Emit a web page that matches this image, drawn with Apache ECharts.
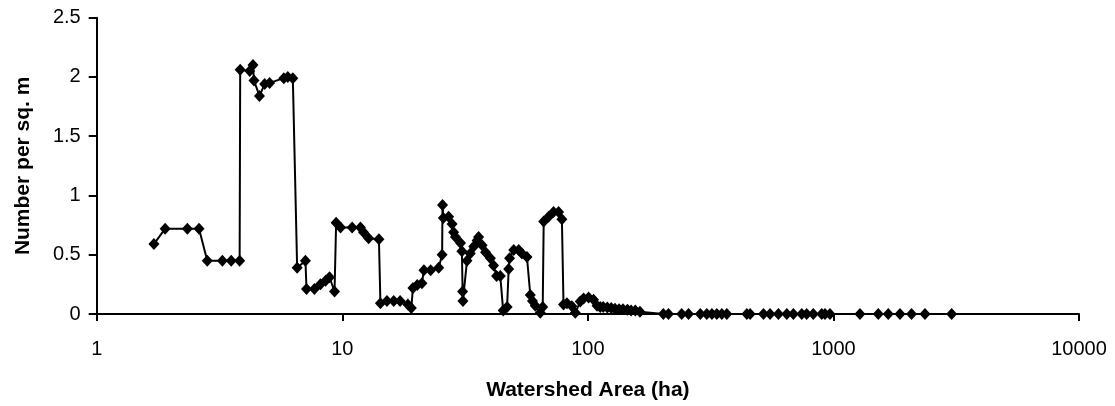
<!DOCTYPE html>
<html>
<head>
<meta charset="utf-8">
<script src="https://cdn.jsdelivr.net/npm/echarts@6/dist/echarts.min.js"></script>
<style>
html,body{margin:0;padding:0;background:#fff;}
#chart{width:1115px;height:406px;}
</style>
</head>
<body>
<div id="chart"></div>
<script>
// Watershed area (ha) for each point
const areas = [
  1.71, 1.90, 2.34, 2.61, 2.82, 3.25, 3.53, 3.82, 3.84, 4.20,
  4.33, 4.37, 4.60, 4.83, 5.06, 5.78, 6.00, 6.29, 6.55, 7.08,
  7.15, 7.70, 8.15, 8.55, 8.87, 9.30, 9.44, 9.84, 10.97, 11.86,
  12.2, 12.8, 14.1, 14.3, 15.2, 16.2, 17.2, 18.5, 19.1, 19.4,
  20.2, 21.1, 21.5, 22.9, 24.7, 25.5, 25.6, 25.8, 27.1, 28.0,
  28.4, 28.9, 30.3, 30.7, 30.9, 31.0, 32.2, 33.2, 34.3, 35.4,
  35.9, 37.1, 38.3, 40.1, 41.3, 42.5, 44.0, 45.2, 46.9, 47.6,
  48.0, 49.9, 52.3, 53.9, 56.5, 58.3, 59.5, 61.1, 64.0, 65.5,
  66.1, 69.2, 72.5, 76.0, 78.4, 79.6, 82.2, 86.1, 88.9, 93.1,
  96.1, 100.7, 105.5, 109, 112.3, 115.5, 120, 124.5, 129, 134,
  139, 145, 150, 156, 163, 203, 213, 241, 257, 287,
  305, 320, 335, 351, 368, 444, 458, 519, 552, 597,
  646, 687, 743, 778, 828, 896, 924, 968, 1282, 1523,
  1672, 1866, 2080, 2359, 3030
];
// Number per sq. m for each point
const densities = [
  0.59, 0.72, 0.72, 0.72, 0.45, 0.45, 0.45, 0.45, 2.06, 2.05,
  2.10, 1.97, 1.84, 1.94, 1.95, 1.99, 2.00, 1.99, 0.39, 0.45,
  0.21, 0.21, 0.25, 0.28, 0.31, 0.19, 0.77, 0.73, 0.73, 0.73,
  0.69, 0.64, 0.63, 0.09, 0.11, 0.11, 0.11, 0.08, 0.05, 0.22,
  0.245, 0.26, 0.37, 0.37, 0.39, 0.50, 0.92, 0.81, 0.82, 0.76,
  0.69, 0.65, 0.60, 0.53, 0.19, 0.11, 0.45, 0.51, 0.57, 0.62,
  0.65, 0.58, 0.52, 0.47, 0.41, 0.32, 0.32, 0.03, 0.06, 0.38,
  0.47, 0.54, 0.54, 0.51, 0.48, 0.16, 0.11, 0.07, 0.01, 0.06,
  0.78, 0.82, 0.86, 0.86, 0.80, 0.08, 0.09, 0.065, 0.01, 0.105,
  0.13, 0.14, 0.12, 0.07, 0.06, 0.06, 0.055, 0.05, 0.045, 0.04,
  0.04, 0.035, 0.03, 0.03, 0.02, 0, 0, 0, 0, 0,
  0, 0, 0, 0, 0, 0, 0, 0, 0, 0,
  0, 0, 0, 0, 0, 0, 0, 0, 0, 0,
  0, 0, 0, 0, 0
];
const xTickValues = [1, 10, 100, 1000, 10000];
const yTickValues = [0, 0.5, 1, 1.5, 2, 2.5];

const points = areas.map((a, i) => [a, densities[i]]);
const font = 'Liberation Sans, Arial, sans-serif';

const chart = echarts.init(document.getElementById('chart'), null, {renderer: 'canvas'});
chart.setOption({
  animation: false,
  backgroundColor: '#ffffff',
  grid: {left: 96.7, right: 36, top: 17.7, bottom: 90, containLabel: false},
  xAxis: {
    type: 'log',
    logBase: 10,
    min: xTickValues[0],
    max: xTickValues[xTickValues.length - 1],
    name: 'Watershed Area (ha)',
    nameLocation: 'middle',
    nameGap: 66,
    nameTextStyle: {fontFamily: font, fontSize: 21, fontWeight: 'bold', color: '#000'},
    axisLine: {lineStyle: {color: '#000', width: 2}},
    axisTick: {show: true, length: 7, lineStyle: {color: '#000', width: 2}},
    minorTick: {show: false},
    splitLine: {show: false},
    axisLabel: {
      fontFamily: font, fontSize: 20, color: '#000', margin: 25,
      formatter: v => String(Math.round(v))
    }
  },
  yAxis: {
    type: 'value',
    min: yTickValues[0],
    max: yTickValues[yTickValues.length - 1],
    interval: 0.5,
    name: 'Number per sq. m',
    nameLocation: 'middle',
    nameGap: 63,
    nameTextStyle: {fontFamily: font, fontSize: 21, fontWeight: 'bold', color: '#000'},
    axisLine: {show: true, lineStyle: {color: '#000', width: 2}},
    axisTick: {show: true, length: 8, lineStyle: {color: '#000', width: 2}},
    splitLine: {show: false},
    axisLabel: {fontFamily: font, fontSize: 20, color: '#000', margin: 16}
  },
  series: [{
    type: 'line',
    data: points,
    clip: false,
    symbol: 'diamond',
    symbolSize: [11, 12],
    showAllSymbol: true,
    lineStyle: {color: '#000', width: 2},
    itemStyle: {color: '#000'}
  }]
});
</script>
</body>
</html>
